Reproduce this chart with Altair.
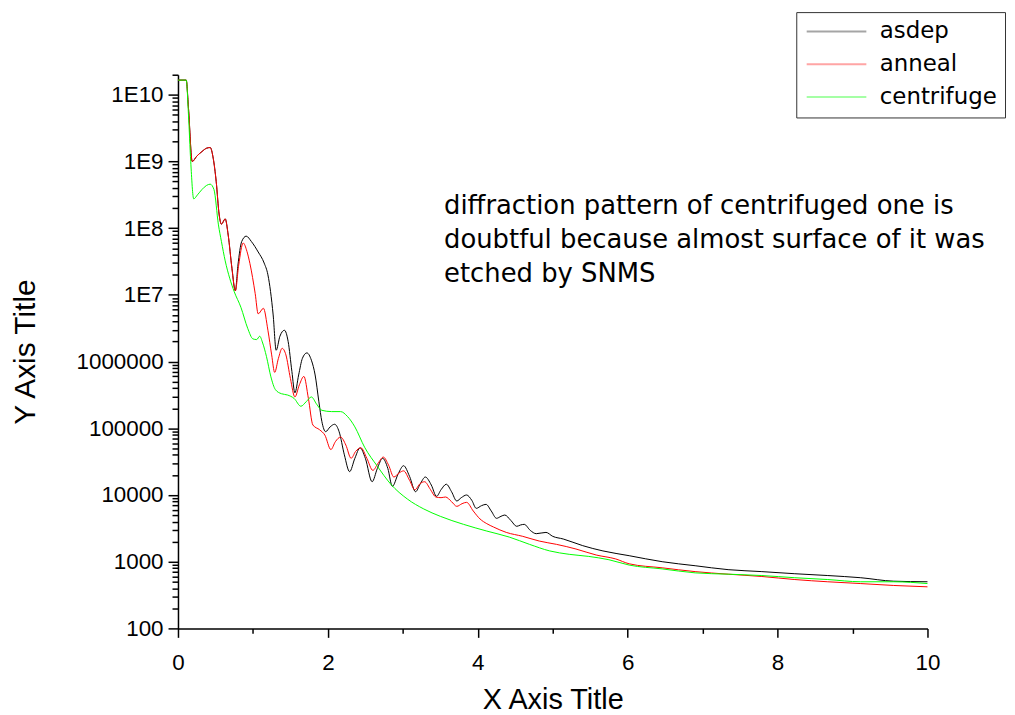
import altair as alt
import pandas as pd

# ---------------- data ----------------
series_names = ["asdep", "anneal", "centrifuge"]
series_colors = ["#000000", "#ff0000", "#00ff00"]

x_asdep = [0.00, 0.11, 0.14, 0.19, 0.25, 0.32, 0.38, 0.43, 0.47, 0.51, 0.55, 0.58, 0.63, 0.67,
           0.72, 0.765, 0.80, 0.85, 0.91, 0.98, 1.07, 1.15, 1.20, 1.27, 1.31, 1.36, 1.42, 1.47,
           1.52, 1.56, 1.61, 1.66, 1.72, 1.78, 1.83, 1.88, 1.92, 1.97, 2.03, 2.09, 2.15, 2.22,
           2.29, 2.36, 2.43, 2.50, 2.59, 2.66, 2.73, 2.80, 2.86, 2.94, 3.01, 3.09, 3.17, 3.23,
           3.30, 3.38, 3.45, 3.51, 3.58, 3.65, 3.72, 3.78, 3.85, 3.92, 3.98, 4.05, 4.11, 4.18,
           4.25, 4.31, 4.36, 4.44, 4.52, 4.57, 4.62, 4.70, 4.78, 4.91, 5.00, 5.14, 5.40, 5.67,
           6.02, 6.46, 6.90, 7.34, 7.79, 8.23, 8.67, 9.11, 9.55, 10.0]
y_asdep = [1.66e10, 1.66e10, 6.3e9, 1.0e9, 1.2e9, 1.41e9, 1.58e9, 1.62e9, 1.12e9, 5.0e8, 1.58e8,
           1.15e8, 1.38e8, 7.9e7, 2.5e7, 1.15e7, 2.8e7, 6.3e7, 7.6e7, 6.3e7, 4.4e7, 3.0e7, 2.0e7,
           5.0e6, 1.48e6, 2.4e6, 2.95e6, 2.0e6, 7.1e5, 3.4e5, 6.3e5, 1.12e6, 1.35e6, 1.05e6, 6.3e5,
           2.5e5, 1.26e5, 8.9e4, 1.05e5, 1.15e5, 8.9e4, 4.0e4, 2.24e4, 3.55e4, 5.1e4, 3.55e4,
           1.58e4, 2.5e4, 3.55e4, 2.5e4, 1.35e4, 2.1e4, 2.75e4, 1.9e4, 1.12e4, 1.45e4, 1.86e4,
           1.41e4, 9550, 1.2e4, 1.45e4, 1.12e4, 8130, 9120, 1.0e4, 8320, 6310, 6920, 7240, 5750,
           4470, 4790, 5010, 4170, 3390, 3550, 3630, 2950, 2630, 2750, 2400, 2190, 1740, 1450,
           1230, 1000, 870, 760, 710, 660, 620, 575, 510, 500]

x_anneal = [0.00, 0.11, 0.14, 0.19, 0.25, 0.32, 0.38, 0.43, 0.47, 0.51, 0.55, 0.58, 0.63, 0.67,
            0.72, 0.765, 0.81, 0.87, 0.92, 0.96, 1.03, 1.07, 1.14, 1.20, 1.25, 1.29, 1.34, 1.39,
            1.44, 1.50, 1.56, 1.62, 1.68, 1.74, 1.80, 1.89, 1.96, 2.04, 2.10, 2.17, 2.24, 2.31,
            2.37, 2.44, 2.52, 2.60, 2.67, 2.74, 2.81, 2.88, 2.95, 3.01, 3.09, 3.16, 3.23, 3.29,
            3.37, 3.44, 3.51, 3.57, 3.65, 3.72, 3.79, 3.85, 3.94, 4.03, 4.12, 4.21, 4.38, 4.60,
            4.82, 5.05, 5.31, 5.58, 5.84, 6.02, 6.46, 6.90, 7.34, 7.79, 8.23, 8.67, 9.11, 9.55, 10.0]
y_anneal = [1.66e10, 1.66e10, 6.3e9, 1.0e9, 1.2e9, 1.41e9, 1.58e9, 1.62e9, 1.12e9, 5.0e8, 1.58e8,
            1.15e8, 1.38e8, 7.9e7, 2.5e7, 1.15e7, 2.8e7, 6.0e7, 4.5e7, 2.95e7, 1.05e7, 5.2e6,
            6.3e6, 2.95e6, 1.26e6, 6.9e5, 1.12e6, 1.58e6, 1.26e6, 5.6e5, 2.95e5, 4.5e5, 6.0e5,
            2.8e5, 1.12e5, 9.5e4, 7.9e4, 4.8e4, 6.3e4, 7.4e4, 5.6e4, 3.55e4, 4.5e4, 5.1e4, 3.55e4,
            2.34e4, 3.0e4, 3.7e4, 2.8e4, 1.86e4, 2.14e4, 2.3e4, 1.66e4, 1.2e4, 1.48e4, 1.58e4,
            1.2e4, 9330, 9120, 9330, 7940, 6760, 7410, 7760, 5750, 4370, 3720, 3310, 2750, 2400,
            2040, 1820, 1550, 1260, 1100, 930, 810, 710, 650, 600, 540, 500, 470, 440, 420]

x_centrifuge = [0.00, 0.11, 0.14, 0.17, 0.21, 0.26, 0.32, 0.38, 0.43, 0.48, 0.54, 0.58, 0.63, 0.69,
                0.75, 0.84, 0.93, 1.00, 1.05, 1.09, 1.13, 1.18, 1.24, 1.30, 1.38, 1.46, 1.55, 1.64,
                1.71, 1.78, 1.85, 1.92, 2.05, 2.17, 2.26, 2.36, 2.49, 2.66, 2.84, 3.06, 3.28, 3.50,
                3.81, 4.12, 4.42, 4.69, 4.96, 5.22, 5.48, 5.75, 6.02, 6.46, 6.90, 7.34, 7.79, 8.23,
                8.67, 9.11, 9.55, 10.0]
y_centrifuge = [1.66e10, 1.66e10, 5.0e9, 1.0e9, 2.75e8, 3.16e8, 3.8e8, 4.37e8, 4.57e8, 3.8e8,
                1.12e8, 6.3e7, 3.24e7, 1.78e7, 1.12e7, 6.5e6, 3.16e6, 2.19e6, 2.14e6, 2.4e6, 1.9e6,
                1.2e6, 5.9e5, 3.8e5, 3.3e5, 3.16e5, 2.8e5, 2.14e5, 2.5e5, 2.95e5, 2.3e5, 1.86e5,
                1.78e5, 1.78e5, 1.51e5, 1.05e5, 5.2e4, 2.7e4, 1.45e4, 8710, 6170, 4790, 3630, 2880,
                2340, 1820, 1450, 1290, 1200, 1070, 890, 780, 680, 650, 620, 575, 540, 500, 500, 470]

y_tick_values = [m * 10 ** e for e in range(2, 11) for m in range(1, 10) if m * 10 ** e <= 1e10] + [2e10]
x_tick_values = [0, 1, 2, 3, 4, 5, 6, 7, 8, 9, 10]

note_lines = ["diffraction pattern of centrifuged one is",
              "doubtful because almost surface of it was",
              "etched by SNMS"]
note_x = [3.55]
note_y = [3.35e8]

# ---------------- table ----------------
rows = []
for k, (name, xs, ys) in enumerate([("asdep", x_asdep, y_asdep),
                                     ("anneal", x_anneal, y_anneal),
                                     ("centrifuge", x_centrifuge, y_centrifuge)]):
    for i, (xv, yv) in enumerate(zip(xs, ys)):
        rows.append({"series": name, "x": xv, "y": yv, "k": k, "i": i})
df = pd.DataFrame(rows)

major_y = "abs(log(datum.value)/LN10 - round(log(datum.value)/LN10)) < 0.001"
y_label_expr = (f"{major_y} ? (datum.value >= 1e7 ? '1E' + round(log(datum.value)/LN10) "
                ": format(datum.value, 'd')) : ''")
major_x = "datum.value % 2 == 0"

x_enc = alt.X("x:Q",
              scale=alt.Scale(domain=[0, 10], nice=False, zero=False),
              axis=alt.Axis(values=x_tick_values, labelExpr=f"{major_x} ? format(datum.value, 'd') : ''",
                            tickSize={"condition": {"test": major_x, "value": 9}, "value": 5},
                            title="X Axis Title", grid=False, labelFlush=False, labelOverlap=False,
                            labelPadding=14, titlePadding=12, titleFontSize=29))
y_enc = alt.Y("y:Q",
              scale=alt.Scale(type="log", domain=[100, 2e10], nice=False),
              axis=alt.Axis(values=y_tick_values, labelExpr=y_label_expr,
                            tickSize={"condition": {"test": major_y, "value": 10}, "value": 6},
                            title="Y Axis Title", grid=False, labelOverlap=False,
                            labelPadding=5, titlePadding=36))

lines = alt.Chart(df).mark_line(strokeWidth=1, interpolate="monotone").encode(
    x=x_enc,
    y=y_enc,
    color=alt.Color("series:N",
                    scale=alt.Scale(domain=series_names, range=series_colors),
                    legend=alt.Legend(orient="none", legendX=622, legendY=-63, title=None,
                                      strokeColor="#333333", padding=8,
                                      symbolType="M-4,0H4", symbolSize=225,
                                      symbolStrokeWidth=2, symbolOpacity=0.35,
                                      symbolOffset=21, labelOffset=32,
                                      labelFontSize=23, labelFont="DejaVu Sans",
                                      labelColor="black", rowPadding=9)),
    detail="series:N",
    order="i:Q",
)

note_df = pd.DataFrame({"x": note_x, "y": note_y, "t": [note_lines]})
note = alt.Chart(note_df).mark_text(align="left", baseline="top", fontSize=26,
                                    font="DejaVu Sans", color="black", lineHeight=34).encode(
    x=alt.X("x:Q"), y=alt.Y("y:Q"), text="t")

chart = alt.layer(lines, note).properties(
    width=754, height=557,
    autosize=alt.AutoSizeParams(type="none"),
    padding={"left": 171, "top": 65, "right": 80, "bottom": 85},
).configure_view(stroke=None).configure_axis(
    domainColor="black", domainWidth=1.5, tickColor="black", tickWidth=1.5,
    labelFont="Liberation Sans", labelFontSize=22.5, labelColor="black",
    titleFont="Liberation Sans", titleFontSize=30, titleFontWeight="normal", titleColor="black",
)

chart.save("out.html", embed_options={"renderer": "svg", "actions": False})
